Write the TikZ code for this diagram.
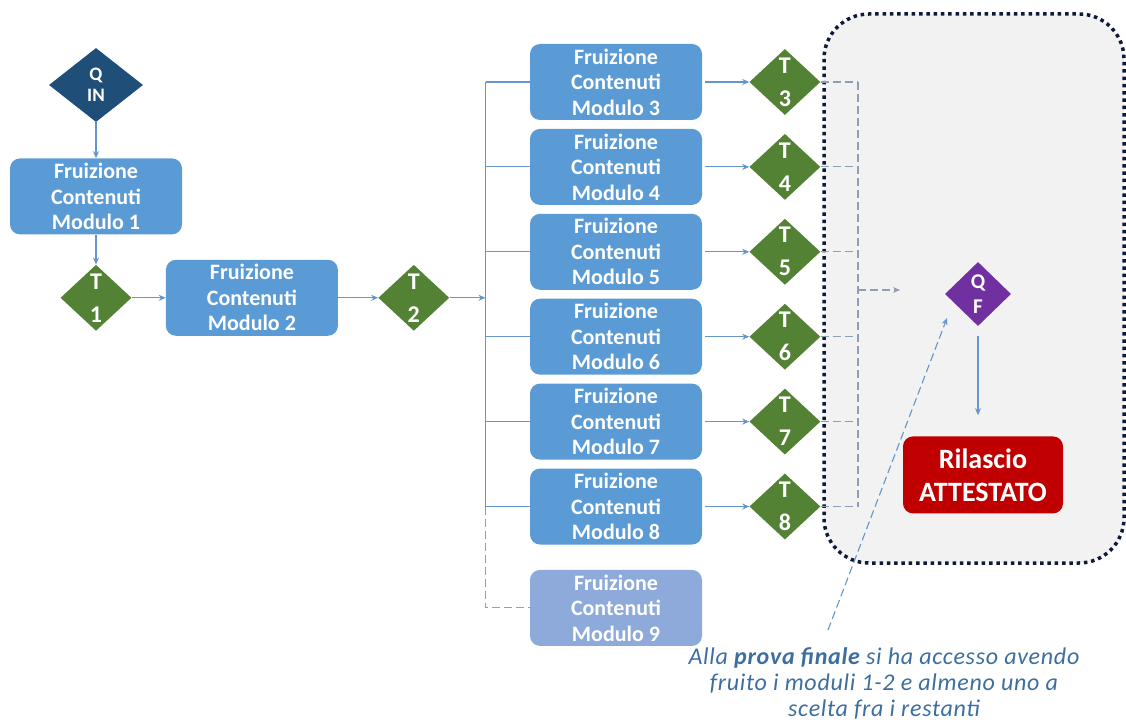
\documentclass[tikz,border=0pt]{standalone}
\usepackage{fontspec}
\setmainfont{Carlito}
\newfontfamily\notefont[LetterSpace=3]{Carlito}
\usepackage{tikz}
\usetikzlibrary{arrows.meta}
\usetikzlibrary{shapes.geometric}
\usetikzlibrary{positioning}

\definecolor{modblue}{HTML}{5B9BD5}
\definecolor{modpale}{HTML}{8EAADB}
\definecolor{testgreen}{HTML}{548235}
\definecolor{qindark}{HTML}{1F4E79}
\definecolor{qfpurple}{HTML}{7030A0}
\definecolor{certred}{HTML}{C00000}
\definecolor{connblue}{HTML}{6495CB}
\definecolor{dashgray}{HTML}{8E9EB5}
\definecolor{panelgray}{HTML}{F2F2F2}
\definecolor{panelnavy}{HTML}{0E1A3A}
\definecolor{notecol}{HTML}{3C6E9F}

\begin{document}
\begin{tikzpicture}[x=1pt, y=-1pt, >={Stealth[length=7pt,width=6pt]},
        module/.style={rectangle, rounded corners=10pt, fill=modblue, text=white,
            minimum width=172pt, minimum height=76pt, align=center,
            font=\fontsize{22}{25.5}\selectfont\bfseries},
        testnode/.style={diamond, fill=testgreen, text=white, inner sep=0pt,
            minimum width=71pt, minimum height=66pt, align=center,
            font=\fontsize{24}{33}\selectfont\bfseries},
        conn/.style={draw=connblue, line width=1.1pt},
        dashconn/.style={draw=dashgray, line width=1.1pt, dash pattern=on 8pt off 4pt}]
        \useasboundingbox (0,0) rectangle (1126,727);
        % final area
        \draw [draw=panelnavy, fill=panelgray, line width=3.5pt,
            dash pattern=on 3.5pt off 3.8pt, rounded corners=45pt] (824,14) rectangle (1124,563);

        \node [diamond, fill=qindark, text=white, inner sep=0pt, minimum width=94pt,
            minimum height=74pt, align=center, font=\fontsize{19}{21}\selectfont\bfseries]
            (qin) at (96,85) {Q\\IN};
        \node [module] (m1) [below=36pt of qin] {Fruizione\\Contenuti\\Modulo 1};
        \node [testnode] (t1) [below=30pt of m1] {T\\1};
        \node [module] (m2) [right=34pt of t1] {Fruizione\\Contenuti\\Modulo 2};
        \node [testnode] (t2) [right=40pt of m2] {T\\2};
        \coordinate [right=36pt of t2] (trunk);

        \node [module] (m3) at (616,82) {Fruizione\\Contenuti\\Modulo 3};
        \node [module] (m4) [below=8.5pt of m3] {Fruizione\\Contenuti\\Modulo 4};
        \node [module] (m5) [below=8.5pt of m4] {Fruizione\\Contenuti\\Modulo 5};
        \node [module] (m6) [below=8.5pt of m5] {Fruizione\\Contenuti\\Modulo 6};
        \node [module] (m7) [below=8.5pt of m6] {Fruizione\\Contenuti\\Modulo 7};
        \node [module] (m8) [below=8.5pt of m7] {Fruizione\\Contenuti\\Modulo 8};
        \node [module, fill=modpale] (m9) [below=25pt of m8] {Fruizione\\Contenuti\\Modulo 9};

        \node [testnode] (t3) [right=47pt of m3] {T\\3};
        \node [testnode] (t4) [right=47pt of m4] {T\\4};
        \node [testnode] (t5) [right=47pt of m5] {T\\5};
        \node [testnode] (t6) [right=47pt of m6] {T\\6};
        \node [testnode] (t7) [right=47pt of m7] {T\\7};
        \node [testnode] (t8) [right=47pt of m8] {T\\8};

        \node [diamond, fill=qfpurple, text=white, inner sep=0pt, minimum width=66pt,
            minimum height=64pt, align=center, font=\fontsize{21}{25}\selectfont\bfseries]
            (qf) at (978,294) {Q\\F};
        \node [rectangle, rounded corners=10pt, fill=certred, text=white, minimum width=160pt,
            minimum height=77pt, align=center, font=\fontsize{28}{33}\selectfont\bfseries]
            (cert) [below=110pt of qf, xshift=5pt] {Rilascio\\ATTESTATO};

        \node [align=center, text=notecol, font=\notefont\fontsize{24}{26}\selectfont\itshape]
            (note) at (884,683) {Alla \textbf{prova finale} si ha accesso avendo\\
            fruito i moduli 1-2 e almeno uno a\\scelta fra i restanti};
        \coordinate (join) at (858,290);
        \coordinate (qfin) at (900,290);
        \coordinate (notetail) at (828,630);
        \coordinate (notehead) at (947,318);

        \path[->, conn]
            (qin) edge (m1)
            (m1) edge (t1)
            (t1) edge (m2)
            (m2) edge (t2)
            (t2) edge (trunk);
        \path[->, conn, shorten <=3pt]
            (m3) edge (t3)
            (m4) edge (t4)
            (m5) edge (t5)
            (m6) edge (t6)
            (m7) edge (t7)
            (m8) edge (t8);

        % branches to the modules
        \draw [conn] (m3.west -| trunk) -- (m8.west -| trunk);
        \draw [conn] (m3.west -| trunk) -- (m3.west);
        \draw [conn] (m4.west -| trunk) -- (m4.west);
        \draw [conn] (m5.west -| trunk) -- (m5.west);
        \draw [conn] (m6.west -| trunk) -- (m6.west);
        \draw [conn] (m7.west -| trunk) -- (m7.west);
        \draw [conn] (m8.west -| trunk) -- (m8.west);
        \draw [dashconn] (m8.west -| trunk) |- (m9.west);

        % tests to the final quiz
        \draw [dashconn] (t3.east -| join) -- (t8.east -| join);
        \draw [dashconn] (t3.east) -- (t3.east -| join);
        \draw [dashconn] (t4.east) -- (t4.east -| join);
        \draw [dashconn] (t5.east) -- (t5.east -| join);
        \draw [dashconn] (t6.east) -- (t6.east -| join);
        \draw [dashconn] (t7.east) -- (t7.east -| join);
        \draw [dashconn] (t8.east) -- (t8.east -| join);
        \draw [dashconn, ->] (join) -- (qfin);

        \draw [conn, ->, shorten <=10pt, shorten >=21pt] (qf.south) -- (qf.south |- cert.north);
        \draw [conn, ->, dash pattern=on 8pt off 4pt] (notetail) -- (notehead);
    \end{tikzpicture}
\end{document}
